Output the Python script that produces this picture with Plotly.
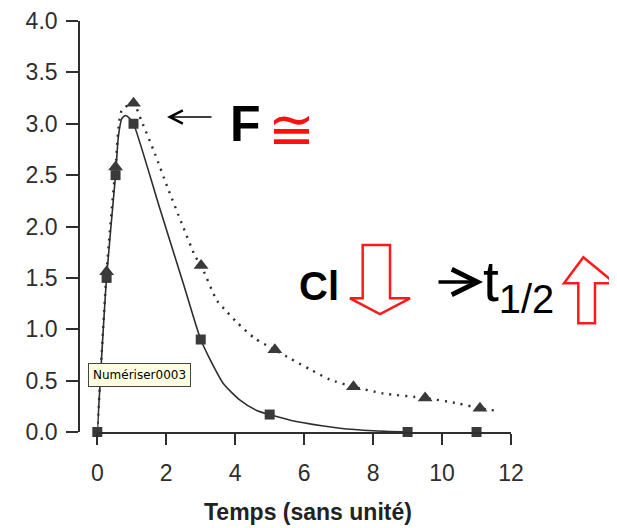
import plotly.graph_objects as go

# ---- data ----
square_x = [0, 0.27, 0.53, 1.05, 3.0, 5.0, 9.0, 11.0]
square_y = [0, 1.5, 2.5, 3.0, 0.9, 0.17, 0.0, 0.0]

triangle_x = [0.27, 0.53, 1.05, 3.01, 5.15, 7.43, 9.51, 11.1]
triangle_y = [1.56, 2.58, 3.2, 1.62, 0.80, 0.44, 0.33, 0.23]

solid_x = [0, 0.27, 0.53, 0.61, 0.71, 0.82, 0.94, 1.05, 1.8, 2.49, 3.0, 3.28, 3.66, 4.14, 4.62, 5.0, 5.6, 6.56, 7.04, 8.0, 9.0]
solid_y = [0, 1.51, 2.5, 2.87, 3.05, 3.08, 3.05, 3.0, 2.19, 1.45, 0.9, 0.70, 0.47, 0.31, 0.21, 0.17, 0.115, 0.058, 0.036, 0.012, 0.0]

dotted_x = [0, 0.27, 0.53, 0.71, 1.05, 1.29, 1.67, 2.06, 2.45, 2.84, 3.01, 3.47, 3.76, 4.04, 4.57, 5.15, 5.57,
            6.17, 6.75, 7.43, 8.3, 9.51, 10.43, 11.1, 11.5]
dotted_y = [0, 1.56, 2.58, 3.13, 3.2, 3.02, 2.71, 2.36, 2.03, 1.71, 1.62, 1.28, 1.17, 1.07, 0.91, 0.80, 0.72,
            0.61, 0.51, 0.44, 0.375, 0.33, 0.28, 0.23, 0.21]

x_ticks = [0, 2, 4, 6, 8, 10, 12]
y_ticks = [0.0, 0.5, 1.0, 1.5, 2.0, 2.5, 3.0, 3.5, 4.0]
x_title = "Temps (sans unité)"

# ---- layout geometry (page pixels; the page body adds an 8px offset) ----
PAGE_W, PAGE_H = 617, 528
OFF = 8
W, H = PAGE_W - OFF, PAGE_H - OFF
L, R, T, B = 79, 511, 21, 432          # plot area in page pixels
PW, PH = R - L, B - T


def px(x):
    return (x - L) / PW


def py(y):
    return (B - y) / PH


INK = "#2e2e2e"
FONT = "Liberation Sans, Arial, sans-serif"

fig = go.Figure()
fig.add_trace(go.Scatter(x=dotted_x, y=dotted_y, mode="lines",
                         line=dict(color=INK, width=2.4, dash="2px,6px", shape="spline", smoothing=0.6),
                         hoverinfo="skip", showlegend=False))
fig.add_trace(go.Scatter(x=solid_x, y=solid_y, mode="lines",
                         line=dict(color=INK, width=1.6, shape="spline", smoothing=0.6),
                         hoverinfo="skip", showlegend=False))
fig.add_trace(go.Scatter(x=triangle_x, y=triangle_y, mode="markers", cliponaxis=False,
                         marker=dict(symbol="triangle-up", size=13, color="#3a3a3a"), showlegend=False))
fig.add_trace(go.Scatter(x=square_x, y=square_y, mode="markers", cliponaxis=False,
                         marker=dict(symbol="square", size=10, color="#3a3a3a"), showlegend=False))

down_arrow = [(362.7, 245), (390, 245), (390, 298.3), (410, 298.3), (380, 314), (350, 298.3), (362.7, 298.3)]
up_arrow = [(583.3, 257.3), (615, 283.3), (595, 283.3), (595, 323.3), (578.3, 323.3), (578.3, 283.3), (564, 283.3)]


def path(pts):
    return "M " + " L ".join(f"{px(a):.4f},{py(b):.4f}" for a, b in pts) + " Z"


shapes = [
    dict(type="path", xref="paper", yref="paper", path=path(down_arrow), line=dict(color="#ff1a1a", width=2.5), fillcolor="white"),
    dict(type="path", xref="paper", yref="paper", path=path(up_arrow), line=dict(color="#ff1a1a", width=2.5), fillcolor="white"),
]

annotations = [
    # thin arrow pointing at the peak
    dict(xref="paper", yref="paper", x=px(167), y=py(117), text="", showarrow=True, ax=46, ay=0,
         arrowhead=5, arrowsize=1.6, arrowwidth=1.6, arrowcolor="black"),
    dict(xref="paper", yref="paper", x=px(245.5), y=py(124), text="<b>F</b>", showarrow=False,
         font=dict(family=FONT, size=50, color="black"), xanchor="center", yanchor="middle"),
    dict(xref="paper", yref="paper", x=px(291.5), y=py(129), text="≅", showarrow=False,
         font=dict(family="DejaVu Sans", size=56, color="#ff1010"), xanchor="center", yanchor="middle"),
    dict(xref="paper", yref="paper", x=px(297), y=py(286), text="<b>Cl</b>", showarrow=False,
         font=dict(family=FONT, size=40, color="black"), xanchor="left", yanchor="middle"),
    # thick arrow before t1/2
    dict(xref="paper", yref="paper", x=px(483), y=py(282), text="", showarrow=True, ax=-46, ay=0,
         arrowhead=5, arrowsize=1.4, arrowwidth=3.6, arrowcolor="black"),
    dict(xref="paper", yref="paper", x=px(481), y=py(285), text="t<sub>1/2</sub>", showarrow=False,
         font=dict(family=FONT, size=57, color="black"), xanchor="left", yanchor="middle"),
    dict(xref="paper", yref="paper", x=px(139.5), y=py(374.5), text="Numériser0003", showarrow=False,
         font=dict(family="DejaVu Sans", size=12, color="black"), bgcolor="#ffffe1", bordercolor="#444",
         borderwidth=1, borderpad=4, xanchor="center", yanchor="middle"),
    dict(xref="paper", yref="paper", x=px(308), y=py(512), text=f"<b>{x_title}</b>", showarrow=False,
         font=dict(family=FONT, size=23, color="#222"), xanchor="center", yanchor="middle"),
]

axis_font = dict(family=FONT, size=23, color=INK)
fig.update_layout(
    width=W, height=H,
    margin=dict(l=L - OFF, r=W - (R - OFF), t=T - OFF, b=H - (B - OFF), pad=0, autoexpand=False),
    paper_bgcolor="white", plot_bgcolor="white",
    showlegend=False,
    xaxis=dict(domain=[px(97.3), 1], range=[0, 12], tickvals=x_ticks, ticktext=[str(v) for v in x_ticks],
               showline=True, linecolor=INK, linewidth=1.6, ticks="outside", ticklen=11, tickwidth=1.6,
               tickcolor=INK, showgrid=False, zeroline=False, tickfont=axis_font, automargin=False,
               ticklabelstandoff=9),
    yaxis=dict(anchor="free", position=0, range=[0, 4], tickvals=y_ticks, ticktext=[f"{v:.1f}" for v in y_ticks],
               showline=True, linecolor=INK, linewidth=1.6, ticks="outside", ticklen=12, tickwidth=1.6,
               tickcolor=INK, showgrid=False, zeroline=False, tickfont=axis_font, automargin=False,
               ticklabelstandoff=4),
    shapes=shapes,
    annotations=annotations,
)

fig.write_html("out.html")
